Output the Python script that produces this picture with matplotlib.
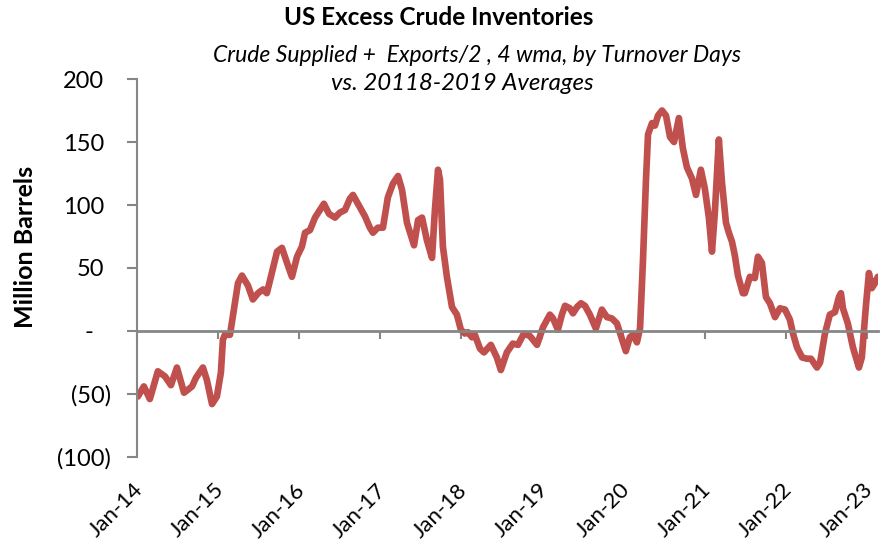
import numpy as np
import pandas as pd
import matplotlib
matplotlib.use("Agg")
import matplotlib.pyplot as plt
from matplotlib.transforms import ScaledTranslation

plt.rcParams['font.family'] = ['Lato', 'DejaVu Sans']

# values (million barrels)
dates = [
    "2014-01-05", "2014-02-01", "2014-02-28", "2014-04-05", "2014-05-07", "2014-06-03",
    "2014-06-30", "2014-08-01", "2014-09-06", "2014-09-24", "2014-10-25", "2014-11-12",
    "2014-12-05", "2014-12-27", "2015-01-14", "2015-01-23", "2015-02-01", "2015-02-24",
    "2015-03-18", "2015-04-01", "2015-04-19", "2015-05-16", "2015-06-07", "2015-06-30",
    "2015-07-23", "2015-08-09", "2015-09-24", "2015-10-16", "2015-11-08", "2015-11-30",
    "2015-12-23", "2016-01-14", "2016-01-28", "2016-02-19", "2016-03-13", "2016-04-04",
    "2016-04-22", "2016-05-15", "2016-06-11", "2016-07-03", "2016-07-26", "2016-08-17",
    "2016-08-31", "2016-09-22", "2016-10-24", "2016-11-15", "2016-11-29", "2016-12-21",
    "2017-01-13", "2017-02-04", "2017-02-27", "2017-03-22", "2017-04-09", "2017-05-01",
    "2017-05-15", "2017-06-02", "2017-06-20", "2017-07-08", "2017-07-30", "2017-08-22",
    "2017-09-04", "2017-09-18", "2017-09-27", "2017-10-10", "2017-10-28", "2017-11-20",
    "2017-12-12", "2017-12-30", "2018-01-17", "2018-01-31", "2018-02-18", "2018-03-03",
    "2018-03-26", "2018-04-13", "2018-05-14", "2018-06-10", "2018-06-28", "2018-07-25",
    "2018-08-21", "2018-09-13", "2018-10-10", "2018-11-06", "2018-12-08", "2019-01-04",
    "2019-02-04", "2019-02-18", "2019-03-12", "2019-03-30", "2019-04-13", "2019-05-05",
    "2019-05-19", "2019-06-06", "2019-06-24", "2019-07-12", "2019-08-03", "2019-08-30",
    "2019-09-26", "2019-10-19", "2019-11-10", "2019-12-03", "2019-12-25", "2020-01-12",
    "2020-01-30", "2020-02-13", "2020-03-02", "2020-03-16", "2020-03-29", "2020-04-12",
    "2020-04-21", "2020-05-09", "2020-05-22", "2020-06-05", "2020-06-23", "2020-07-11",
    "2020-07-29", "2020-08-16", "2020-09-07", "2020-09-25", "2020-10-13", "2020-11-05",
    "2020-11-23", "2020-12-15", "2021-01-02", "2021-01-20", "2021-02-03", "2021-02-16",
    "2021-03-06", "2021-03-20", "2021-04-07", "2021-04-20", "2021-05-04", "2021-05-17",
    "2021-05-31", "2021-06-22", "2021-07-01", "2021-07-24", "2021-08-15", "2021-08-29",
    "2021-09-16", "2021-10-04", "2021-10-22", "2021-11-14", "2021-12-06", "2021-12-29",
    "2022-01-20", "2022-02-03", "2022-02-21", "2022-03-16", "2022-04-07", "2022-04-25",
    "2022-05-22", "2022-06-05", "2022-06-27", "2022-07-19", "2022-08-11", "2022-08-29",
    "2022-09-07", "2022-09-16", "2022-10-08", "2022-10-31", "2022-11-27", "2022-12-10",
    "2022-12-28", "2023-01-11", "2023-01-24", "2023-02-07", "2023-02-20",
]
excess = [
    -52, -44, -54, -32, -36, -43,
    -29, -49, -44, -37, -29, -39,
    -58, -52, -33, -7, -3, -3,
    22, 38, 44, 36, 25, 30,
    33, 30, 63, 66, 54, 43,
    59, 67, 78, 80, 90, 96,
    101, 93, 90, 94, 96, 105,
    108, 101, 91, 82, 78, 82,
    82, 106, 117, 123, 112, 86,
    78, 68, 88, 90, 72, 58,
    96, 128, 120, 67, 43, 19,
    13, 1, -2, -1, -5, -3,
    -14, -17, -11, -21, -31, -17,
    -10, -11, -2, -4, -11, 3,
    13, 10, 1, 13, 20, 18,
    14, 19, 22, 20, 13, 2,
    17, 11, 10, 6, -6, -16,
    -5, -3, -9, 2, 55, 121,
    156, 165, 163, 171, 175, 171,
    154, 150, 169, 145, 130, 121,
    108, 128, 113, 90, 63, 94,
    152, 118, 86, 78, 71, 60,
    44, 30, 30, 43, 42, 59,
    54, 27, 22, 11, 18, 17,
    9, -2, -13, -21, -22, -22,
    -29, -25, -2, 13, 15, 27,
    30, 18, 6, -13, -29, -21,
    19, 46, 34, 38, 43,
]
year_ticks = ["2014-01-01", "2015-01-01", "2016-01-01", "2017-01-01", "2018-01-01",
              "2019-01-01", "2020-01-01", "2021-01-01", "2022-01-01", "2023-01-01"]
year_labels = ["Jan-14", "Jan-15", "Jan-16", "Jan-17", "Jan-18",
               "Jan-19", "Jan-20", "Jan-21", "Jan-22", "Jan-23"]
y_ticks = [-100, -50, 0, 50, 100, 150, 200]
y_labels = ["(100)", "(50)", "-", "50", "100", "150", "200"]

x = pd.to_datetime(dates)
xt = pd.to_datetime(year_ticks)

fig = plt.figure(figsize=(8.86, 5.43), dpi=100)
ax = fig.add_axes([0.1546, 0.1584, 0.8364, 0.6961])

grey = '#868686'
ax.plot(x, excess, color='#C0504D', lw=4.8, solid_joinstyle='round', solid_capstyle='round')

ax.set_xlim(pd.Timestamp("2014-01-01"), pd.Timestamp("2023-02-21"))
ax.set_ylim(-100, 200)

for s in ['top', 'right']:
    ax.spines[s].set_visible(False)
ax.spines['left'].set_color(grey)
ax.spines['left'].set_linewidth(1.5)
ax.spines['bottom'].set_position(('data', 0))
ax.spines['bottom'].set_color(grey)
ax.spines['bottom'].set_linewidth(2)

ax.set_xticks(xt)
ax.tick_params(axis='x', length=6, width=1.5, color=grey, labelbottom=False)
ax.set_yticks(y_ticks)
ax.set_yticklabels(y_labels, fontsize=17)
ax.tick_params(axis='y', length=7, width=1.5, color=grey, pad=13)
# accounting-style alignment: positive numbers leave room for ")"
for lab, v in zip(ax.get_yticklabels(), y_ticks):
    if v > 0:
        dx = -5
    elif v == 0:
        dx = -16
    else:
        dx = 2
    lab.set_transform(lab.get_transform() + ScaledTranslation(dx / 100, 0, fig.dpi_scale_trans))

# dates along the bottom edge
sec = ax.secondary_xaxis(0)
sec.set_xticks(xt)
sec.set_xticklabels(year_labels, rotation=45, ha='right', va='center',
                    rotation_mode='anchor', fontsize=16)
sec.tick_params(axis='x', length=0, pad=21.5)
sec.spines['bottom'].set_visible(False)
for lab in sec.get_xticklabels():
    lab.set_transform(lab.get_transform() + ScaledTranslation(3 / 100, 0, fig.dpi_scale_trans))

ax.set_ylabel("Million Barrels", fontsize=18, fontweight='bold')
ax.yaxis.set_label_coords(-0.135, 0.556)

fig.text(0.495, 0.967, "US Excess Crude Inventories", ha='center', va='center',
         fontsize=17.5, fontweight='bold')
fig.text(0.538, 0.898, "Crude Supplied +  Exports/2 , 4 wma, by Turnover Days",
         ha='center', va='center', fontsize=16.5, style='italic')
fig.text(0.522, 0.847, "vs. 20118-2019 Averages",
         ha='center', va='center', fontsize=17.3, style='italic')

fig.savefig("out.png", dpi=100)
